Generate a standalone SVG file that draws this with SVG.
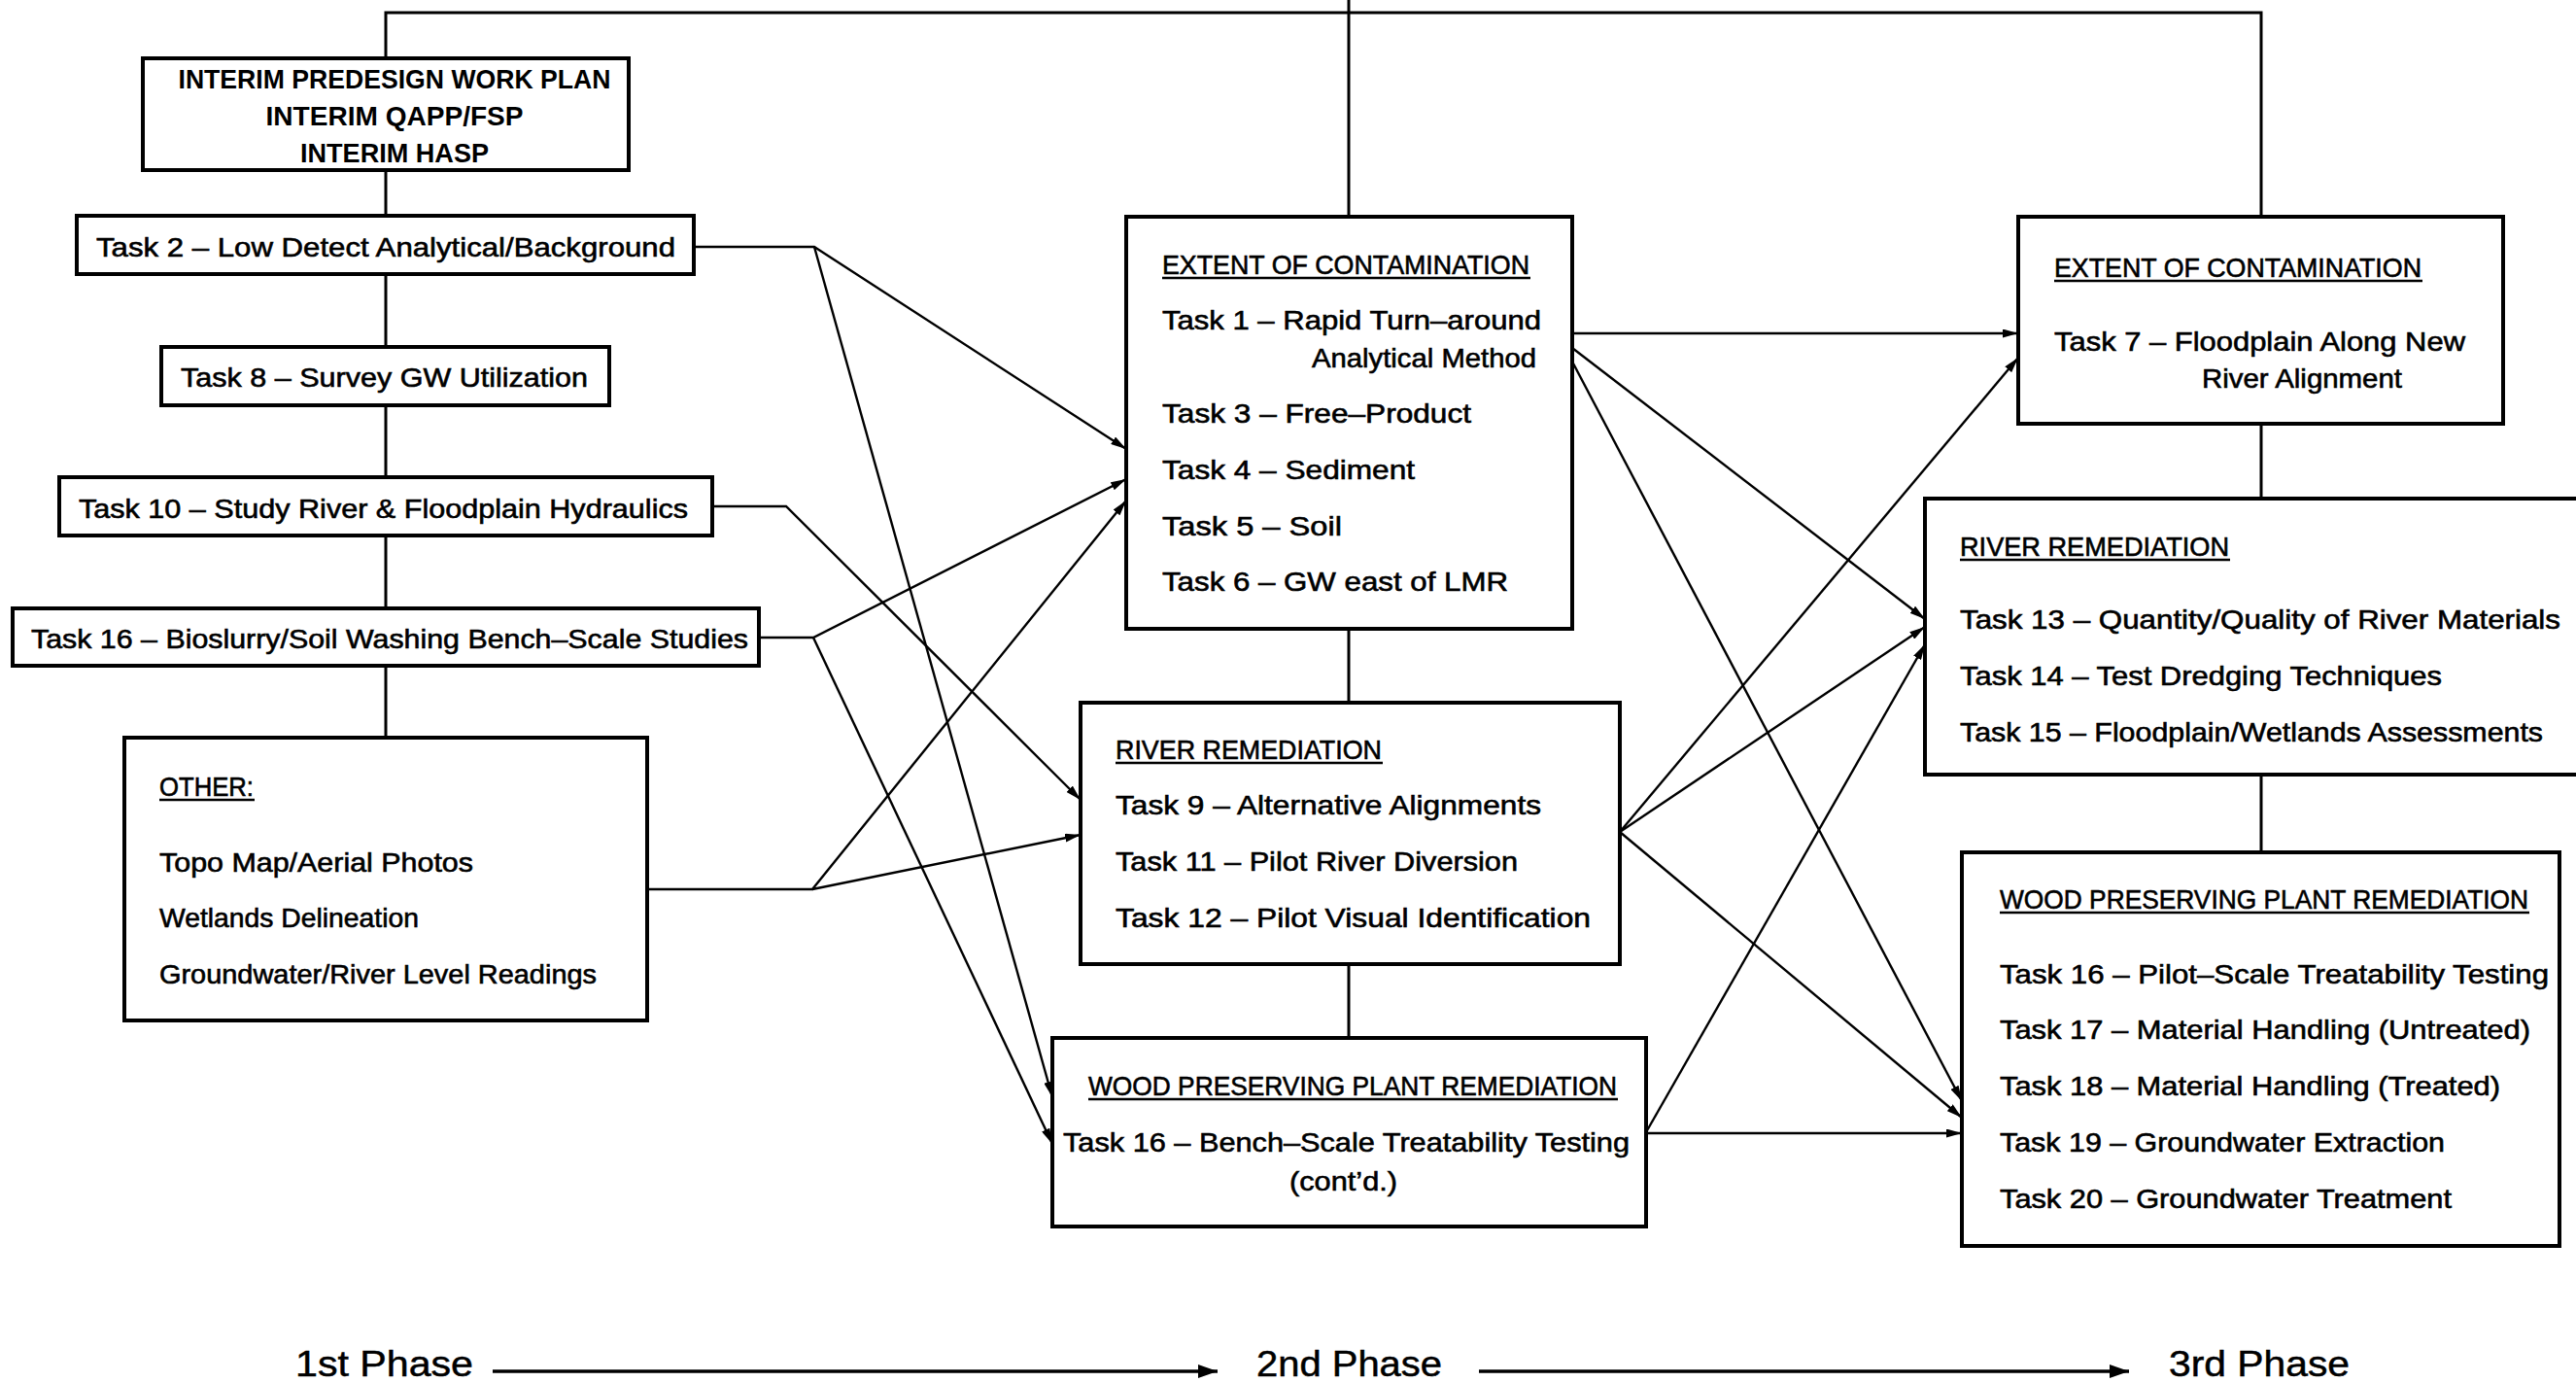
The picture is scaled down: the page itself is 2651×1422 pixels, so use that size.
<svg xmlns="http://www.w3.org/2000/svg" width="2651" height="1422" viewBox="0 0 2651 1422">
<style>
  .box{fill:#fff;stroke:#000;stroke-width:4}
  .t{font-family:"Liberation Sans",Arial,sans-serif;font-size:28px;fill:#000;stroke:#000;stroke-width:0.6}
  .b{font-weight:bold;stroke-width:0}
  .ph{font-family:"Liberation Sans",Arial,sans-serif;font-size:37px;fill:#000;stroke:#000;stroke-width:0.5}
  .ul{stroke:#000;stroke-width:2.5}
  .c{fill:none;stroke:#000;stroke-width:2.4}
  .tree{fill:none;stroke:#000;stroke-width:3}
</style>
<defs>
  <marker id="ah" markerUnits="userSpaceOnUse" markerWidth="16" markerHeight="9" refX="16" refY="4.5" orient="auto">
    <path d="M0,0 L16,4.5 L0,9 z" fill="#000"/>
  </marker>
  <marker id="ahp" markerUnits="userSpaceOnUse" markerWidth="20" markerHeight="14" refX="20" refY="7" orient="auto">
    <path d="M0,0 L20,7 L0,14 z" fill="#000"/>
  </marker>
</defs>
<rect width="2651" height="1422" fill="#fff"/>

<g id="connectors">
  <polyline class="tree" points="397,60 397,13 2327,13 2327,223"/>
  <line class="tree" x1="397" y1="175" x2="397" y2="759"/>
  <line class="tree" x1="1388" y1="0" x2="1388" y2="1068"/>
  <line class="tree" x1="2327" y1="436" x2="2327" y2="877"/>
  <polyline class="c" points="714,254 838,254 1159,462" marker-end="url(#ah)"/>
  <polyline class="c" points="838,254 1083,1129" marker-end="url(#ah)"/>
  <polyline class="c" points="733,521 809,521 1112,823" marker-end="url(#ah)"/>
  <polyline class="c" points="781,656 837,656 1159,493" marker-end="url(#ah)"/>
  <polyline class="c" points="837,656 1083,1177" marker-end="url(#ah)"/>
  <polyline class="c" points="666,915 836,915 1159,515" marker-end="url(#ah)"/>
  <polyline class="c" points="836,915 1112,859" marker-end="url(#ah)"/>
  <line class="c" x1="1618" y1="343" x2="2077" y2="343" marker-end="url(#ah)"/>
  <line class="c" x1="1618" y1="358" x2="1981" y2="637" marker-end="url(#ah)"/>
  <line class="c" x1="1618" y1="372" x2="2019" y2="1133" marker-end="url(#ah)"/>
  <line class="c" x1="1667" y1="856" x2="2077" y2="368" marker-end="url(#ah)"/>
  <line class="c" x1="1667" y1="856" x2="1981" y2="645" marker-end="url(#ah)"/>
  <line class="c" x1="1667" y1="856" x2="2019" y2="1150" marker-end="url(#ah)"/>
  <line class="c" x1="1694" y1="1165" x2="1981" y2="663" marker-end="url(#ah)"/>
  <line class="c" x1="1694" y1="1166" x2="2019" y2="1166" marker-end="url(#ah)"/>
  <line x1="507" y1="1411" x2="1253" y2="1411" stroke="#000" stroke-width="3.5" marker-end="url(#ahp)"/>
  <line x1="1522" y1="1411" x2="2191" y2="1411" stroke="#000" stroke-width="3.5" marker-end="url(#ahp)"/>
</g>

<g id="interim">
  <rect class="box" x="147" y="60" width="500" height="115"/>
  <text class="t b" x="406" y="91" text-anchor="middle" textLength="445" lengthAdjust="spacingAndGlyphs">INTERIM PREDESIGN WORK PLAN</text>
  <text class="t b" x="406" y="129" text-anchor="middle" textLength="265" lengthAdjust="spacingAndGlyphs">INTERIM QAPP/FSP</text>
  <text class="t b" x="406" y="167" text-anchor="middle" textLength="194" lengthAdjust="spacingAndGlyphs">INTERIM HASP</text>
</g>
<g id="task2">
  <rect class="box" x="79" y="222" width="635" height="60"/>
  <text class="t" x="99" y="264" textLength="596" lengthAdjust="spacingAndGlyphs">Task 2 – Low Detect Analytical/Background</text>
</g>
<g id="task8">
  <rect class="box" x="166" y="357" width="461" height="60"/>
  <text class="t" x="186" y="398" textLength="419" lengthAdjust="spacingAndGlyphs">Task 8 – Survey GW Utilization</text>
</g>
<g id="task10">
  <rect class="box" x="61" y="491" width="672" height="60"/>
  <text class="t" x="81" y="533" textLength="627" lengthAdjust="spacingAndGlyphs">Task 10 – Study River &amp; Floodplain Hydraulics</text>
</g>
<g id="task16-1">
  <rect class="box" x="13" y="626" width="768" height="59"/>
  <text class="t" x="32" y="667" textLength="738" lengthAdjust="spacingAndGlyphs">Task 16 – Bioslurry/Soil Washing Bench–Scale Studies</text>
</g>
<g id="other">
  <rect class="box" x="128" y="759" width="538" height="291"/>
  <text class="t" x="164" y="819" textLength="97" lengthAdjust="spacingAndGlyphs">OTHER:</text>
  <line class="ul" x1="164" y1="823" x2="262" y2="823"/>
  <text class="t" x="164" y="897" textLength="323" lengthAdjust="spacingAndGlyphs">Topo Map/Aerial Photos</text>
  <text class="t" x="164" y="954" textLength="267" lengthAdjust="spacingAndGlyphs">Wetlands Delineation</text>
  <text class="t" x="164" y="1012" textLength="450" lengthAdjust="spacingAndGlyphs">Groundwater/River Level Readings</text>
</g>

<g id="extent2">
  <rect class="box" x="1159" y="223" width="459" height="424"/>
  <text class="t" x="1196" y="282" textLength="378" lengthAdjust="spacingAndGlyphs">EXTENT OF CONTAMINATION</text>
  <line class="ul" x1="1196" y1="286" x2="1575" y2="286"/>
  <text class="t" x="1196" y="339" textLength="390" lengthAdjust="spacingAndGlyphs">Task 1 – Rapid Turn–around</text>
  <text class="t" x="1350" y="378" textLength="231" lengthAdjust="spacingAndGlyphs">Analytical Method</text>
  <text class="t" x="1196" y="435" textLength="318" lengthAdjust="spacingAndGlyphs">Task 3 – Free–Product</text>
  <text class="t" x="1196" y="493" textLength="260" lengthAdjust="spacingAndGlyphs">Task 4 – Sediment</text>
  <text class="t" x="1196" y="551" textLength="185" lengthAdjust="spacingAndGlyphs">Task 5 – Soil</text>
  <text class="t" x="1196" y="608" textLength="356" lengthAdjust="spacingAndGlyphs">Task 6 – GW east of LMR</text>
</g>
<g id="river2">
  <rect class="box" x="1112" y="723" width="555" height="269"/>
  <text class="t" x="1148" y="781" textLength="274" lengthAdjust="spacingAndGlyphs">RIVER REMEDIATION</text>
  <line class="ul" x1="1148" y1="785" x2="1423" y2="785"/>
  <text class="t" x="1148" y="838" textLength="438" lengthAdjust="spacingAndGlyphs">Task 9 – Alternative Alignments</text>
  <text class="t" x="1148" y="896" textLength="414" lengthAdjust="spacingAndGlyphs">Task 11 – Pilot River Diversion</text>
  <text class="t" x="1148" y="954" textLength="489" lengthAdjust="spacingAndGlyphs">Task 12 – Pilot Visual Identification</text>
</g>
<g id="wood2">
  <rect class="box" x="1083" y="1068" width="611" height="194"/>
  <text class="t" x="1120" y="1127" textLength="544" lengthAdjust="spacingAndGlyphs">WOOD PRESERVING PLANT REMEDIATION</text>
  <line class="ul" x1="1120" y1="1131" x2="1665" y2="1131"/>
  <text class="t" x="1094" y="1185" textLength="583" lengthAdjust="spacingAndGlyphs">Task 16 – Bench–Scale Treatability Testing</text>
  <text class="t" x="1327" y="1225" textLength="111" lengthAdjust="spacingAndGlyphs">(cont’d.)</text>
</g>

<g id="extent3">
  <rect class="box" x="2077" y="223" width="499" height="213"/>
  <text class="t" x="2114" y="285" textLength="378" lengthAdjust="spacingAndGlyphs">EXTENT OF CONTAMINATION</text>
  <line class="ul" x1="2114" y1="289" x2="2493" y2="289"/>
  <text class="t" x="2114" y="361" textLength="423" lengthAdjust="spacingAndGlyphs">Task 7 – Floodplain Along New</text>
  <text class="t" x="2266" y="399" textLength="206" lengthAdjust="spacingAndGlyphs">River Alignment</text>
</g>
<g id="river3">
  <rect class="box" x="1981" y="513" width="690" height="284"/>
  <text class="t" x="2017" y="572" textLength="277" lengthAdjust="spacingAndGlyphs">RIVER REMEDIATION</text>
  <line class="ul" x1="2017" y1="576" x2="2295" y2="576"/>
  <text class="t" x="2017" y="647" textLength="618" lengthAdjust="spacingAndGlyphs">Task 13 – Quantity/Quality of River Materials</text>
  <text class="t" x="2017" y="705" textLength="496" lengthAdjust="spacingAndGlyphs">Task 14 – Test Dredging Techniques</text>
  <text class="t" x="2017" y="763" textLength="600" lengthAdjust="spacingAndGlyphs">Task 15 – Floodplain/Wetlands Assessments</text>
</g>
<g id="wood3">
  <rect class="box" x="2019" y="877" width="615" height="405"/>
  <text class="t" x="2058" y="935" textLength="544" lengthAdjust="spacingAndGlyphs">WOOD PRESERVING PLANT REMEDIATION</text>
  <line class="ul" x1="2058" y1="939" x2="2603" y2="939"/>
  <text class="t" x="2058" y="1012" textLength="565" lengthAdjust="spacingAndGlyphs">Task 16 – Pilot–Scale Treatability Testing</text>
  <text class="t" x="2058" y="1069" textLength="546" lengthAdjust="spacingAndGlyphs">Task 17 – Material Handling (Untreated)</text>
  <text class="t" x="2058" y="1127" textLength="515" lengthAdjust="spacingAndGlyphs">Task 18 – Material Handling (Treated)</text>
  <text class="t" x="2058" y="1185" textLength="458" lengthAdjust="spacingAndGlyphs">Task 19 – Groundwater Extraction</text>
  <text class="t" x="2058" y="1243" textLength="465" lengthAdjust="spacingAndGlyphs">Task 20 – Groundwater Treatment</text>
</g>

<g id="phases">
  <text class="ph" x="304" y="1416" textLength="183" lengthAdjust="spacingAndGlyphs">1st Phase</text>
  <text class="ph" x="1293" y="1416" textLength="191" lengthAdjust="spacingAndGlyphs">2nd Phase</text>
  <text class="ph" x="2232" y="1416" textLength="186" lengthAdjust="spacingAndGlyphs">3rd Phase</text>
</g>
</svg>
